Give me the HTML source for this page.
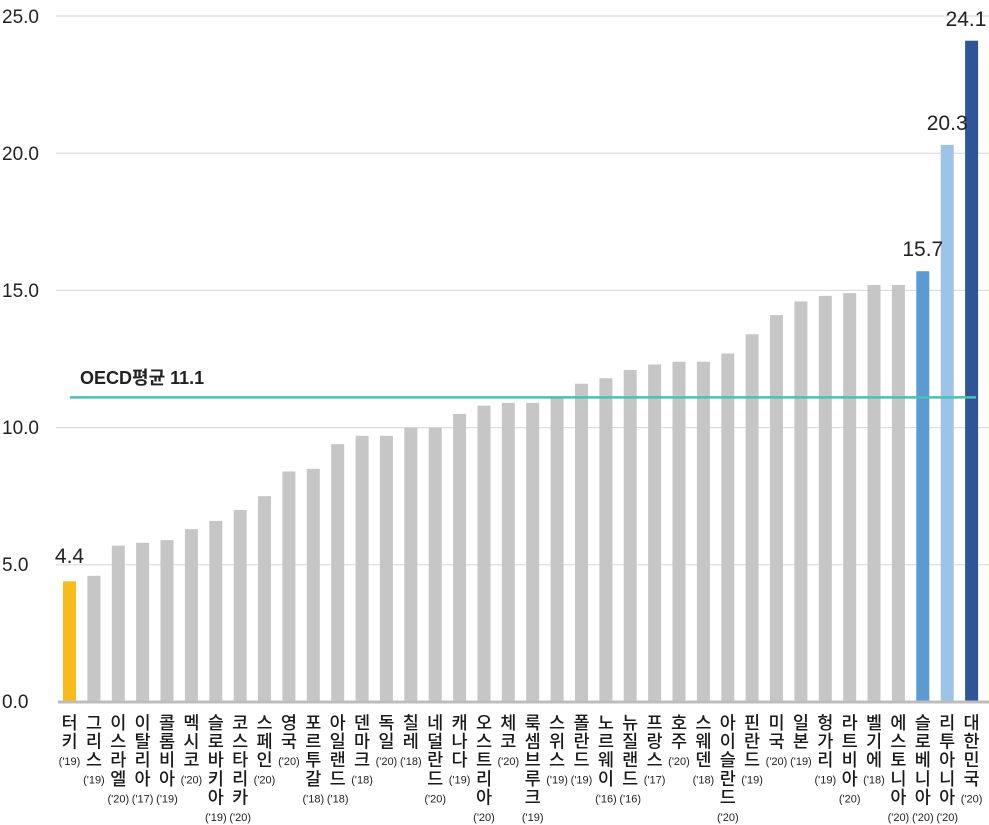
<!DOCTYPE html>
<html><head><meta charset="utf-8"><style>
html,body{margin:0;padding:0;background:#fff;}
svg{display:block;font-family:"Liberation Sans","Noto Sans CJK KR",sans-serif;}
.k{font-size:17.5px;fill:#1a1a1a;text-anchor:middle;font-family:"Noto Sans CJK KR",sans-serif;font-weight:500;}
.y{font-size:11px;fill:#222;font-family:"Liberation Sans Narrow","Liberation Sans",sans-serif;font-weight:400;}
</style></head><body>
<svg width="989" height="825" viewBox="0 0 989 825" xmlns="http://www.w3.org/2000/svg">
<g stroke="#d6d6d6" stroke-width="1">
<line x1="56" y1="16" x2="989" y2="16"/><line x1="56" y1="153.2" x2="989" y2="153.2"/>
<line x1="56" y1="290.4" x2="989" y2="290.4"/><line x1="56" y1="427.6" x2="989" y2="427.6"/>
<line x1="56" y1="564.8" x2="989" y2="564.8"/>
</g>
<g font-size="19" fill="#222">
<text x="2" y="23">25.0</text><text x="2" y="160">20.0</text><text x="2" y="297">15.0</text>
<text x="2" y="434">10.0</text><text x="2" y="571">5.0</text><text x="2" y="708">0.0</text>
</g>
<g fill="#c6c6c6">
<rect x="63" y="581.3" width="13" height="120.7" fill="#f8bb1c"/>
<rect x="87.4" y="575.8" width="13" height="126.2"/>
<rect x="111.8" y="545.6" width="13" height="156.4"/>
<rect x="136.1" y="542.8" width="13" height="159.2"/>
<rect x="160.5" y="540.1" width="13" height="161.9"/>
<rect x="184.9" y="529.1" width="13" height="172.9"/>
<rect x="209.3" y="520.9" width="13" height="181.1"/>
<rect x="233.7" y="509.9" width="13" height="192.1"/>
<rect x="258" y="496.2" width="13" height="205.8"/>
<rect x="282.4" y="471.5" width="13" height="230.5"/>
<rect x="306.8" y="468.8" width="13" height="233.2"/>
<rect x="331.2" y="444.1" width="13" height="257.9"/>
<rect x="355.6" y="435.8" width="13" height="266.2"/>
<rect x="379.9" y="435.8" width="13" height="266.2"/>
<rect x="404.3" y="427.6" width="13" height="274.4"/>
<rect x="428.7" y="427.6" width="13" height="274.4"/>
<rect x="453.1" y="413.9" width="13" height="288.1"/>
<rect x="477.5" y="405.6" width="13" height="296.4"/>
<rect x="501.8" y="402.9" width="13" height="299.1"/>
<rect x="526.2" y="402.9" width="13" height="299.1"/>
<rect x="550.6" y="397.4" width="13" height="304.6"/>
<rect x="575" y="383.7" width="13" height="318.3"/>
<rect x="599.4" y="378.2" width="13" height="323.8"/>
<rect x="623.7" y="370" width="13" height="332"/>
<rect x="648.1" y="364.5" width="13" height="337.5"/>
<rect x="672.5" y="361.7" width="13" height="340.3"/>
<rect x="696.9" y="361.7" width="13" height="340.3"/>
<rect x="721.3" y="353.5" width="13" height="348.5"/>
<rect x="745.6" y="334.3" width="13" height="367.7"/>
<rect x="770" y="315.1" width="13" height="386.9"/>
<rect x="794.4" y="301.4" width="13" height="400.6"/>
<rect x="818.8" y="295.9" width="13" height="406.1"/>
<rect x="843.2" y="293.1" width="13" height="408.9"/>
<rect x="867.5" y="284.9" width="13" height="417.1"/>
<rect x="891.9" y="284.9" width="13" height="417.1"/>
<rect x="916.3" y="271.2" width="13" height="430.8" fill="#5b9bd5"/>
<rect x="940.7" y="144.9" width="13" height="557.1" fill="#9dc3e6"/>
<rect x="965.1" y="40.7" width="13" height="661.3" fill="#2f5597"/>
</g>
<line x1="58" y1="702" x2="989" y2="702" stroke="#bdbdbd" stroke-width="3"/>
<line x1="70" y1="397.4" x2="976" y2="397.4" stroke="#4cbfb3" stroke-width="2.5"/>
<text x="80" y="384" font-size="18" font-weight="bold" fill="#222">OECD평균 11.1</text>
<g font-size="21" fill="#222" text-anchor="middle">
<text x="69.5" y="563">4.4</text><text x="922.8" y="256">15.7</text>
<text x="947.2" y="130">20.3</text><text x="966" y="26">24.1</text>
</g>
<g class="k">
<text><tspan x="69.5" y="729">터</tspan><tspan x="69.5" dy="18.6">키</tspan><tspan class="y" x="69.5" dy="17.5">('19)</tspan></text>
<text><tspan x="93.9" y="729">그</tspan><tspan x="93.9" dy="18.6">리</tspan><tspan x="93.9" dy="18.6">스</tspan><tspan class="y" x="93.9" dy="17.5">('19)</tspan></text>
<text><tspan x="118.3" y="729">이</tspan><tspan x="118.3" dy="18.6">스</tspan><tspan x="118.3" dy="18.6">라</tspan><tspan x="118.3" dy="18.6">엘</tspan><tspan class="y" x="118.3" dy="17.5">('20)</tspan></text>
<text><tspan x="142.6" y="729">이</tspan><tspan x="142.6" dy="18.6">탈</tspan><tspan x="142.6" dy="18.6">리</tspan><tspan x="142.6" dy="18.6">아</tspan><tspan class="y" x="142.6" dy="17.5">('17)</tspan></text>
<text><tspan x="167" y="729">콜</tspan><tspan x="167" dy="18.6">롬</tspan><tspan x="167" dy="18.6">비</tspan><tspan x="167" dy="18.6">아</tspan><tspan class="y" x="167" dy="17.5">('19)</tspan></text>
<text><tspan x="191.4" y="729">멕</tspan><tspan x="191.4" dy="18.6">시</tspan><tspan x="191.4" dy="18.6">코</tspan><tspan class="y" x="191.4" dy="17.5">('20)</tspan></text>
<text><tspan x="215.8" y="729">슬</tspan><tspan x="215.8" dy="18.6">로</tspan><tspan x="215.8" dy="18.6">바</tspan><tspan x="215.8" dy="18.6">키</tspan><tspan x="215.8" dy="18.6">아</tspan><tspan class="y" x="215.8" dy="17.5">('19)</tspan></text>
<text><tspan x="240.2" y="729">코</tspan><tspan x="240.2" dy="18.6">스</tspan><tspan x="240.2" dy="18.6">타</tspan><tspan x="240.2" dy="18.6">리</tspan><tspan x="240.2" dy="18.6">카</tspan><tspan class="y" x="240.2" dy="17.5">('20)</tspan></text>
<text><tspan x="264.5" y="729">스</tspan><tspan x="264.5" dy="18.6">페</tspan><tspan x="264.5" dy="18.6">인</tspan><tspan class="y" x="264.5" dy="17.5">('20)</tspan></text>
<text><tspan x="288.9" y="729">영</tspan><tspan x="288.9" dy="18.6">국</tspan><tspan class="y" x="288.9" dy="17.5">('20)</tspan></text>
<text><tspan x="313.3" y="729">포</tspan><tspan x="313.3" dy="18.6">르</tspan><tspan x="313.3" dy="18.6">투</tspan><tspan x="313.3" dy="18.6">갈</tspan><tspan class="y" x="313.3" dy="17.5">('18)</tspan></text>
<text><tspan x="337.7" y="729">아</tspan><tspan x="337.7" dy="18.6">일</tspan><tspan x="337.7" dy="18.6">랜</tspan><tspan x="337.7" dy="18.6">드</tspan><tspan class="y" x="337.7" dy="17.5">('18)</tspan></text>
<text><tspan x="362.1" y="729">덴</tspan><tspan x="362.1" dy="18.6">마</tspan><tspan x="362.1" dy="18.6">크</tspan><tspan class="y" x="362.1" dy="17.5">('18)</tspan></text>
<text><tspan x="386.4" y="729">독</tspan><tspan x="386.4" dy="18.6">일</tspan><tspan class="y" x="386.4" dy="17.5">('20)</tspan></text>
<text><tspan x="410.8" y="729">칠</tspan><tspan x="410.8" dy="18.6">레</tspan><tspan class="y" x="410.8" dy="17.5">('18)</tspan></text>
<text><tspan x="435.2" y="729">네</tspan><tspan x="435.2" dy="18.6">덜</tspan><tspan x="435.2" dy="18.6">란</tspan><tspan x="435.2" dy="18.6">드</tspan><tspan class="y" x="435.2" dy="17.5">('20)</tspan></text>
<text><tspan x="459.6" y="729">캐</tspan><tspan x="459.6" dy="18.6">나</tspan><tspan x="459.6" dy="18.6">다</tspan><tspan class="y" x="459.6" dy="17.5">('19)</tspan></text>
<text><tspan x="484" y="729">오</tspan><tspan x="484" dy="18.6">스</tspan><tspan x="484" dy="18.6">트</tspan><tspan x="484" dy="18.6">리</tspan><tspan x="484" dy="18.6">아</tspan><tspan class="y" x="484" dy="17.5">('20)</tspan></text>
<text><tspan x="508.3" y="729">체</tspan><tspan x="508.3" dy="18.6">코</tspan><tspan class="y" x="508.3" dy="17.5">('20)</tspan></text>
<text><tspan x="532.7" y="729">룩</tspan><tspan x="532.7" dy="18.6">셈</tspan><tspan x="532.7" dy="18.6">브</tspan><tspan x="532.7" dy="18.6">루</tspan><tspan x="532.7" dy="18.6">크</tspan><tspan class="y" x="532.7" dy="17.5">('19)</tspan></text>
<text><tspan x="557.1" y="729">스</tspan><tspan x="557.1" dy="18.6">위</tspan><tspan x="557.1" dy="18.6">스</tspan><tspan class="y" x="557.1" dy="17.5">('19)</tspan></text>
<text><tspan x="581.5" y="729">폴</tspan><tspan x="581.5" dy="18.6">란</tspan><tspan x="581.5" dy="18.6">드</tspan><tspan class="y" x="581.5" dy="17.5">('19)</tspan></text>
<text><tspan x="605.9" y="729">노</tspan><tspan x="605.9" dy="18.6">르</tspan><tspan x="605.9" dy="18.6">웨</tspan><tspan x="605.9" dy="18.6">이</tspan><tspan class="y" x="605.9" dy="17.5">('16)</tspan></text>
<text><tspan x="630.2" y="729">뉴</tspan><tspan x="630.2" dy="18.6">질</tspan><tspan x="630.2" dy="18.6">랜</tspan><tspan x="630.2" dy="18.6">드</tspan><tspan class="y" x="630.2" dy="17.5">('16)</tspan></text>
<text><tspan x="654.6" y="729">프</tspan><tspan x="654.6" dy="18.6">랑</tspan><tspan x="654.6" dy="18.6">스</tspan><tspan class="y" x="654.6" dy="17.5">('17)</tspan></text>
<text><tspan x="679" y="729">호</tspan><tspan x="679" dy="18.6">주</tspan><tspan class="y" x="679" dy="17.5">('20)</tspan></text>
<text><tspan x="703.4" y="729">스</tspan><tspan x="703.4" dy="18.6">웨</tspan><tspan x="703.4" dy="18.6">덴</tspan><tspan class="y" x="703.4" dy="17.5">('18)</tspan></text>
<text><tspan x="727.8" y="729">아</tspan><tspan x="727.8" dy="18.6">이</tspan><tspan x="727.8" dy="18.6">슬</tspan><tspan x="727.8" dy="18.6">란</tspan><tspan x="727.8" dy="18.6">드</tspan><tspan class="y" x="727.8" dy="17.5">('20)</tspan></text>
<text><tspan x="752.1" y="729">핀</tspan><tspan x="752.1" dy="18.6">란</tspan><tspan x="752.1" dy="18.6">드</tspan><tspan class="y" x="752.1" dy="17.5">('19)</tspan></text>
<text><tspan x="776.5" y="729">미</tspan><tspan x="776.5" dy="18.6">국</tspan><tspan class="y" x="776.5" dy="17.5">('20)</tspan></text>
<text><tspan x="800.9" y="729">일</tspan><tspan x="800.9" dy="18.6">본</tspan><tspan class="y" x="800.9" dy="17.5">('19)</tspan></text>
<text><tspan x="825.3" y="729">헝</tspan><tspan x="825.3" dy="18.6">가</tspan><tspan x="825.3" dy="18.6">리</tspan><tspan class="y" x="825.3" dy="17.5">('19)</tspan></text>
<text><tspan x="849.7" y="729">라</tspan><tspan x="849.7" dy="18.6">트</tspan><tspan x="849.7" dy="18.6">비</tspan><tspan x="849.7" dy="18.6">아</tspan><tspan class="y" x="849.7" dy="17.5">('20)</tspan></text>
<text><tspan x="874" y="729">벨</tspan><tspan x="874" dy="18.6">기</tspan><tspan x="874" dy="18.6">에</tspan><tspan class="y" x="874" dy="17.5">('18)</tspan></text>
<text><tspan x="898.4" y="729">에</tspan><tspan x="898.4" dy="18.6">스</tspan><tspan x="898.4" dy="18.6">토</tspan><tspan x="898.4" dy="18.6">니</tspan><tspan x="898.4" dy="18.6">아</tspan><tspan class="y" x="898.4" dy="17.5">('20)</tspan></text>
<text><tspan x="922.8" y="729">슬</tspan><tspan x="922.8" dy="18.6">로</tspan><tspan x="922.8" dy="18.6">베</tspan><tspan x="922.8" dy="18.6">니</tspan><tspan x="922.8" dy="18.6">아</tspan><tspan class="y" x="922.8" dy="17.5">('20)</tspan></text>
<text><tspan x="947.2" y="729">리</tspan><tspan x="947.2" dy="18.6">투</tspan><tspan x="947.2" dy="18.6">아</tspan><tspan x="947.2" dy="18.6">니</tspan><tspan x="947.2" dy="18.6">아</tspan><tspan class="y" x="947.2" dy="17.5">('20)</tspan></text>
<text><tspan x="971.6" y="729">대</tspan><tspan x="971.6" dy="18.6">한</tspan><tspan x="971.6" dy="18.6">민</tspan><tspan x="971.6" dy="18.6">국</tspan><tspan class="y" x="971.6" dy="17.5">('20)</tspan></text>
</g>
</svg>
</body></html>
